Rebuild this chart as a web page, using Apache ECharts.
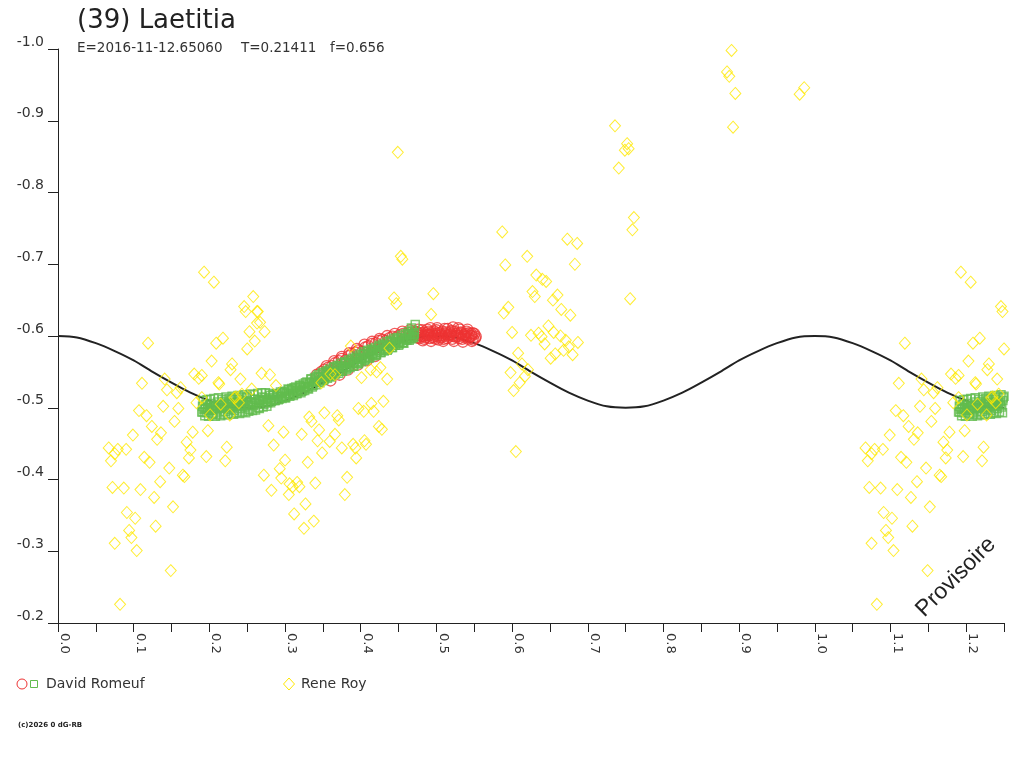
<!DOCTYPE html>
<html>
<head>
<meta charset="utf-8">
<script src="https://cdn.jsdelivr.net/npm/echarts@6/dist/echarts.min.js"></script>
<style>
html, body { margin: 0; padding: 0; background: #fff; }
#chart { width: 1024px; height: 768px; }
</style>
</head>
<body>
<div id="chart"></div>
<script>
// light curve of (39) Laetitia, phase vs magnitude
var curvePhase = [0, 0.025, 0.05, 0.075, 0.1, 0.125, 0.15, 0.175, 0.2, 0.225,
    0.25, 0.275, 0.3, 0.325, 0.35, 0.375, 0.4, 0.425, 0.45, 0.475,
    0.5, 0.525, 0.55, 0.575, 0.6, 0.625, 0.65, 0.675, 0.7, 0.725,
    0.75, 0.775, 0.8, 0.825, 0.85, 0.875, 0.9, 0.925, 0.95, 0.975,
    1.0, 1.025, 1.05, 1.075, 1.1, 1.125, 1.15, 1.175, 1.2, 1.225, 1.25]
var curveMag = [-0.600, -0.598, -0.590, -0.579, -0.566, -0.550, -0.535, -0.521, -0.510, -0.502,
    -0.500, -0.502, -0.510, -0.521, -0.535, -0.550, -0.566, -0.579, -0.590, -0.598,
    -0.600, -0.598, -0.590, -0.579, -0.566, -0.550, -0.535, -0.521, -0.510, -0.502,
    -0.500, -0.502, -0.510, -0.521, -0.535, -0.550, -0.566, -0.579, -0.590, -0.598,
    -0.600, -0.598, -0.590, -0.579, -0.566, -0.550, -0.535, -0.521, -0.510, -0.502, -0.500]

// Rene Roy (diamonds)
var reneRoy = [
    [0.193,-0.689],[0.206,-0.675],[0.258,-0.655],[0.246,-0.641],[0.248,-0.634],[0.263,-0.634],
    [0.263,-0.618],[0.253,-0.606],[0.260,-0.593],[0.250,-0.582],[0.119,-0.590],[0.209,-0.590],
    [0.218,-0.597],[0.203,-0.565],[0.230,-0.561],[0.228,-0.553],[0.241,-0.540],[0.180,-0.547],
    [0.186,-0.541],[0.190,-0.545],[0.212,-0.535],[0.213,-0.533],[0.141,-0.540],[0.111,-0.534],
    [0.144,-0.525],[0.157,-0.521],[0.162,-0.528],[0.190,-0.514],[0.183,-0.507],[0.256,-0.526],
    [0.243,-0.519],[0.235,-0.515],[0.239,-0.507],[0.139,-0.502],[0.159,-0.499],[0.107,-0.496],
    [0.117,-0.489],[0.201,-0.490],[0.154,-0.481],[0.124,-0.474],[0.099,-0.462],[0.136,-0.465],
    [0.131,-0.456],[0.178,-0.466],[0.198,-0.468],[0.170,-0.452],[0.175,-0.441],[0.173,-0.430],
    [0.223,-0.445],[0.067,-0.444],[0.079,-0.442],[0.075,-0.436],[0.070,-0.426],[0.090,-0.442],
    [0.114,-0.431],[0.121,-0.424],[0.196,-0.432],[0.221,-0.426],[0.147,-0.416],[0.165,-0.406],
    [0.167,-0.404],[0.072,-0.389],[0.087,-0.388],[0.109,-0.386],[0.135,-0.397],[0.127,-0.375],
    [0.152,-0.362],[0.091,-0.354],[0.102,-0.346],[0.129,-0.335],[0.094,-0.329],[0.097,-0.319],
    [0.075,-0.311],[0.104,-0.301],[0.149,-0.273],[0.082,-0.226],
    [0.215,-0.505],[0.233,-0.514],[0.227,-0.490],
    [0.264,-0.634],[0.267,-0.619],[0.273,-0.606],[0.444,-0.653],[0.447,-0.645],[0.496,-0.659],
    [0.493,-0.630],[0.387,-0.586],[0.438,-0.583],[0.269,-0.548],[0.280,-0.546],[0.413,-0.553],
    [0.421,-0.550],[0.426,-0.556],[0.401,-0.542],[0.435,-0.540],[0.360,-0.547],[0.366,-0.546],
    [0.348,-0.535],[0.288,-0.531],[0.397,-0.499],[0.404,-0.495],[0.414,-0.506],[0.417,-0.495],
    [0.430,-0.509],[0.352,-0.493],[0.369,-0.489],[0.371,-0.483],[0.332,-0.487],[0.335,-0.481],
    [0.278,-0.475],[0.298,-0.466],[0.345,-0.469],[0.424,-0.474],[0.428,-0.470],[0.322,-0.463],
    [0.366,-0.463],[0.359,-0.453],[0.343,-0.454],[0.285,-0.448],[0.390,-0.449],[0.393,-0.444],
    [0.405,-0.454],[0.407,-0.449],[0.375,-0.444],[0.349,-0.437],[0.394,-0.430],[0.300,-0.427],
    [0.330,-0.424],[0.293,-0.415],[0.272,-0.406],[0.295,-0.402],[0.306,-0.394],[0.310,-0.390],
    [0.316,-0.396],[0.319,-0.390],[0.340,-0.395],[0.382,-0.403],[0.282,-0.385],[0.305,-0.379],
    [0.379,-0.379],[0.327,-0.366],[0.312,-0.352],[0.338,-0.342],[0.325,-0.332],
    [0.449,-0.856],[0.453,-0.711],[0.455,-0.707],
    [0.587,-0.745],[0.673,-0.735],[0.686,-0.729],[0.620,-0.711],[0.591,-0.699],[0.683,-0.700],
    [0.632,-0.685],[0.640,-0.679],[0.645,-0.676],[0.627,-0.662],[0.630,-0.655],[0.660,-0.657],
    [0.654,-0.650],[0.595,-0.640],[0.589,-0.632],[0.665,-0.637],[0.677,-0.629],[0.600,-0.605],
    [0.625,-0.601],[0.635,-0.604],[0.639,-0.599],[0.648,-0.614],[0.655,-0.605],[0.664,-0.600],
    [0.671,-0.594],[0.643,-0.589],[0.687,-0.591],[0.675,-0.585],[0.668,-0.580],[0.657,-0.575],
    [0.651,-0.569],[0.680,-0.574],[0.608,-0.576],[0.613,-0.561],[0.621,-0.553],[0.617,-0.544],
    [0.610,-0.535],[0.598,-0.549],[0.602,-0.524],[0.605,-0.439],
    [0.890,-0.998],[0.884,-0.968],[0.887,-0.962],[0.895,-0.938],[0.986,-0.946],[0.980,-0.937],
    [0.892,-0.891],[0.736,-0.893],[0.752,-0.868],[0.749,-0.859],[0.754,-0.861],[0.741,-0.834],
    [0.761,-0.765],[0.759,-0.748],[0.756,-0.652]
]

// David Romeuf, squares session
var romeufSquares = [
    [0.190,-0.494],[0.191,-0.502],[0.193,-0.498],[0.195,-0.505],[0.196,-0.493],[0.198,-0.500],
    [0.200,-0.496],[0.202,-0.506],[0.204,-0.499],[0.205,-0.492],[0.207,-0.503],[0.209,-0.497],
    [0.211,-0.508],[0.213,-0.500],[0.214,-0.494],[0.216,-0.504],[0.218,-0.499],[0.220,-0.509],
    [0.221,-0.495],[0.223,-0.502],[0.225,-0.506],[0.227,-0.498],[0.229,-0.511],[0.231,-0.501],
    [0.233,-0.496],[0.235,-0.507],[0.237,-0.503],[0.239,-0.512],[0.241,-0.499],[0.243,-0.505],
    [0.245,-0.509],[0.247,-0.501],[0.249,-0.514],[0.251,-0.504],[0.253,-0.498],[0.255,-0.508],
    [0.258,-0.503],[0.260,-0.512],[0.262,-0.506],[0.265,-0.500],[0.267,-0.510],[0.270,-0.515],
    [0.272,-0.505],[0.275,-0.511],[0.277,-0.507],[0.280,-0.517],[0.282,-0.509],[0.285,-0.514],
    [0.287,-0.510],[0.290,-0.519],[0.292,-0.512],[0.295,-0.516],[0.297,-0.522],[0.300,-0.514],
    [0.302,-0.520],[0.305,-0.525],[0.307,-0.517],[0.310,-0.522],[0.312,-0.528],[0.315,-0.520],
    [0.317,-0.526],[0.320,-0.531],[0.322,-0.523],[0.325,-0.529],[0.327,-0.535],[0.330,-0.527],
    [0.332,-0.533],[0.335,-0.540],[0.337,-0.531],[0.340,-0.538],[0.342,-0.544],[0.345,-0.536],
    [0.347,-0.543],[0.350,-0.549],[0.352,-0.540],[0.355,-0.546],[0.357,-0.552],[0.360,-0.544],
    [0.362,-0.550],[0.365,-0.556],[0.367,-0.548],[0.370,-0.554],[0.372,-0.559],[0.375,-0.551],
    [0.377,-0.557],[0.380,-0.563],[0.382,-0.555],[0.385,-0.561],[0.387,-0.566],[0.390,-0.558],
    [0.392,-0.564],[0.395,-0.570],[0.397,-0.562],[0.400,-0.568],[0.402,-0.574],[0.405,-0.566],
    [0.407,-0.572],[0.410,-0.578],[0.412,-0.570],[0.415,-0.576],[0.417,-0.581],[0.420,-0.573],
    [0.422,-0.579],[0.425,-0.585],[0.427,-0.577],[0.430,-0.583],[0.432,-0.588],[0.435,-0.580],
    [0.437,-0.586],[0.440,-0.592],[0.442,-0.584],[0.445,-0.590],[0.447,-0.595],[0.450,-0.587],
    [0.452,-0.593],[0.455,-0.598],[0.457,-0.590],[0.460,-0.596],[0.462,-0.603],[0.464,-0.594],
    [0.466,-0.600],[0.468,-0.608],[0.470,-0.598],[0.471,-0.604],
    [0.192,-0.510],[0.194,-0.489],[0.197,-0.511],[0.199,-0.488],[0.201,-0.512],[0.203,-0.490],
    [0.206,-0.513],[0.208,-0.488],[0.210,-0.491],[0.212,-0.514],[0.215,-0.489],[0.217,-0.512],
    [0.219,-0.491],[0.222,-0.515],[0.224,-0.490],[0.226,-0.513],[0.228,-0.492],[0.230,-0.516],
    [0.232,-0.491],[0.234,-0.514],[0.236,-0.493],[0.238,-0.517],[0.240,-0.492],[0.242,-0.515],
    [0.244,-0.494],[0.246,-0.518],[0.248,-0.493],[0.250,-0.516],[0.252,-0.495],[0.254,-0.519],
    [0.257,-0.496],[0.259,-0.518],[0.261,-0.497],[0.264,-0.520],[0.266,-0.499],[0.269,-0.521],
    [0.271,-0.501],[0.274,-0.521],[0.276,-0.502],[0.279,-0.520],
    [0.281,-0.507],[0.284,-0.518],[0.286,-0.510],[0.289,-0.520],[0.291,-0.511],[0.294,-0.522],
    [0.296,-0.513],[0.299,-0.523],[0.301,-0.514],[0.304,-0.526],[0.306,-0.516],[0.309,-0.527],
    [0.311,-0.517],[0.314,-0.529],[0.316,-0.520],[0.319,-0.531],[0.321,-0.521],[0.324,-0.533],
    [0.326,-0.524],[0.329,-0.536],[0.331,-0.526],[0.334,-0.540],[0.336,-0.529],[0.339,-0.542],
    [0.341,-0.532],[0.344,-0.546],[0.346,-0.535],[0.349,-0.548],[0.351,-0.538],[0.354,-0.551],
    [0.356,-0.541],[0.359,-0.554],[0.361,-0.543],[0.364,-0.557],[0.366,-0.546],[0.369,-0.559],
    [0.371,-0.548],[0.374,-0.562],[0.376,-0.551],[0.379,-0.564],[0.381,-0.553],[0.384,-0.567],
    [0.386,-0.556],[0.389,-0.569],[0.391,-0.558],[0.394,-0.572],[0.396,-0.561],[0.399,-0.575],
    [0.401,-0.564],[0.404,-0.578],[0.406,-0.567],[0.409,-0.580],[0.411,-0.569],[0.414,-0.582],
    [0.416,-0.572],[0.419,-0.584],[0.421,-0.574],[0.424,-0.587],[0.426,-0.577],[0.429,-0.589],
    [0.431,-0.579],[0.434,-0.592],[0.436,-0.582],[0.439,-0.594],[0.441,-0.584],[0.444,-0.597],
    [0.446,-0.587],[0.449,-0.598],[0.451,-0.589],[0.454,-0.601],[0.456,-0.591],[0.459,-0.603],
    [0.461,-0.594],[0.463,-0.606],[0.465,-0.596],[0.467,-0.611],[0.469,-0.599],[0.472,-0.616],
    [0.1915,-0.494],[0.1945,-0.499],[0.1975,-0.497],[0.2005,-0.503],[0.2035,-0.497],[0.2065,-0.502],
    [0.2095,-0.499],[0.2125,-0.505],[0.2155,-0.499],[0.2185,-0.504],[0.2215,-0.501],[0.2245,-0.507],
    [0.2275,-0.500],[0.2305,-0.505],[0.2335,-0.503],[0.2365,-0.508],[0.2395,-0.502],[0.2425,-0.507],
    [0.2455,-0.504],[0.2485,-0.510],[0.2515,-0.503],[0.2545,-0.508],[0.2575,-0.506],[0.2605,-0.512],
    [0.2635,-0.506],[0.2665,-0.511],[0.2695,-0.508],[0.2725,-0.514],[0.2755,-0.508],[0.2785,-0.513],
    [0.2815,-0.511],[0.2845,-0.517],[0.2875,-0.511],[0.2905,-0.516],[0.2935,-0.515],[0.2965,-0.521],
    [0.2995,-0.515],[0.3025,-0.520],[0.3055,-0.519],[0.3085,-0.524],[0.3115,-0.519],[0.3145,-0.524],
    [0.3175,-0.523],[0.3205,-0.529],[0.3235,-0.524],[0.3265,-0.529],[0.3295,-0.529],[0.3325,-0.535],
    [0.3355,-0.531],[0.3385,-0.536],[0.3415,-0.536],[0.3445,-0.542],[0.3475,-0.538],[0.3505,-0.543],
    [0.3535,-0.543],[0.3565,-0.550],[0.3595,-0.545],[0.3625,-0.550],[0.3655,-0.550],[0.3685,-0.556],
    [0.3715,-0.551],[0.3745,-0.556],[0.3775,-0.556],[0.3805,-0.562],[0.3835,-0.557],[0.3865,-0.562],
    [0.3895,-0.562],[0.3925,-0.568],[0.3955,-0.563],[0.3985,-0.568],[0.4015,-0.569],[0.4045,-0.575],
    [0.4075,-0.570],[0.4105,-0.575],[0.4135,-0.575],[0.4165,-0.580],[0.4195,-0.575],[0.4225,-0.580],
    [0.4255,-0.580],[0.4285,-0.586],[0.4315,-0.581],[0.4345,-0.586],[0.4375,-0.586],[0.4405,-0.591],
    [0.4435,-0.587],[0.4465,-0.592],[0.4495,-0.591],[0.4525,-0.596],[0.4555,-0.591],[0.4585,-0.596],
    [0.4615,-0.596],[0.4645,-0.602],[0.4675,-0.596],[0.4705,-0.602]
]

// David Romeuf, circles session
var romeufCircles = [
    [0.342,-0.546],[0.348,-0.550],[0.352,-0.553],[0.357,-0.556],[0.362,-0.558],[0.366,-0.562],
    [0.371,-0.565],[0.375,-0.568],[0.380,-0.566],[0.384,-0.572],[0.388,-0.575],[0.393,-0.577],
    [0.397,-0.580],[0.402,-0.578],[0.406,-0.584],[0.410,-0.586],[0.415,-0.589],[0.420,-0.590],
    [0.424,-0.593],[0.429,-0.595],[0.433,-0.593],[0.438,-0.597],[0.442,-0.599],[0.447,-0.598],
    [0.451,-0.601],[0.456,-0.603],[0.460,-0.600],[0.464,-0.604],[0.468,-0.602],[0.472,-0.606],
    [0.475,-0.598],[0.478,-0.603],[0.481,-0.608],[0.484,-0.596],[0.487,-0.601],[0.490,-0.606],
    [0.492,-0.611],[0.495,-0.598],[0.498,-0.603],[0.500,-0.608],[0.503,-0.595],[0.506,-0.601],
    [0.508,-0.606],[0.511,-0.610],[0.514,-0.597],[0.517,-0.602],[0.520,-0.607],[0.522,-0.612],
    [0.525,-0.599],[0.528,-0.604],[0.531,-0.609],[0.534,-0.596],[0.537,-0.601],[0.540,-0.606],
    [0.543,-0.598],[0.546,-0.603],[0.549,-0.595],[0.552,-0.599],
    [0.355,-0.558],[0.365,-0.565],[0.375,-0.571],[0.385,-0.576],[0.395,-0.582],[0.405,-0.588],
    [0.415,-0.592],[0.425,-0.596],[0.435,-0.600],[0.445,-0.603],[0.455,-0.606],[0.465,-0.608],
    [0.360,-0.538],[0.372,-0.546],[0.383,-0.553],[0.396,-0.560],[0.408,-0.566],[0.419,-0.572],
    [0.474,-0.605],[0.477,-0.597],[0.480,-0.600],[0.483,-0.605],[0.486,-0.598],[0.489,-0.602],
    [0.491,-0.597],[0.494,-0.605],[0.497,-0.600],[0.499,-0.596],[0.502,-0.604],[0.505,-0.598],
    [0.507,-0.602],[0.510,-0.596],[0.513,-0.605],[0.516,-0.599],[0.519,-0.603],[0.521,-0.596],
    [0.524,-0.606],[0.527,-0.600],[0.530,-0.597],[0.533,-0.604],[0.536,-0.599],[0.539,-0.603],
    [0.542,-0.596],[0.545,-0.600],[0.548,-0.604],[0.551,-0.597],
    [0.476,-0.609],[0.482,-0.594],[0.488,-0.609],[0.493,-0.593],[0.501,-0.611],[0.509,-0.593],
    [0.515,-0.610],[0.523,-0.593],[0.529,-0.611],[0.535,-0.592],[0.541,-0.609],[0.547,-0.593],
    [0.4765,-0.601],[0.4800,-0.604],[0.4835,-0.600],[0.4870,-0.604],[0.4905,-0.601],[0.4940,-0.602],
    [0.4975,-0.606],[0.5010,-0.600],[0.5045,-0.604],[0.5080,-0.599],[0.5115,-0.603],[0.5150,-0.601],
    [0.5185,-0.605],[0.5220,-0.600],[0.5255,-0.603],[0.5290,-0.600],[0.5325,-0.605],[0.5360,-0.602],
    [0.5395,-0.599],[0.5430,-0.604],[0.5465,-0.600],[0.5500,-0.603]
]

var titleText = '(39) Laetitia'
var infoTexts = ['E=2016-11-12.65060', 'T=0.21411', 'f=0.656']
var observers = ['David Romeuf', 'Rene Roy']

// phase axis runs to 1.25: points of phase <= 0.25 are shown again one cycle later
function withWrap(points) {
    var extra = points.filter(function (p) { return p[0] <= 0.25 })
        .map(function (p) { return [p[0] + 1, p[1]] })
    return points.concat(extra)
}

var FONT = '"DejaVu Sans", "Liberation Sans", sans-serif'
var YELLOW = '#ffe800'
var GREEN = '#62bb4e'
var RED = '#ee3333'

var chart = echarts.init(document.getElementById('chart'))

var option = {
    animation: false,
    backgroundColor: '#fff',
    grid: { left: 58, top: 49, right: 20, bottom: 145 },
    xAxis: {
        type: 'value',
        min: 0,
        max: 1.25,
        interval: 0.05,
        splitLine: { show: false },
        axisLine: { onZero: false, lineStyle: { color: '#222', width: 1 } },
        axisTick: { length: 9, lineStyle: { color: '#222' } },
        axisLabel: {
            rotate: -90,
            margin: 10,
            verticalAlign: 'bottom',
            color: '#333',
            fontFamily: FONT,
            fontSize: 13,
            formatter: function (v) {
                var k = Math.round(v * 100)
                return k % 10 === 0 ? (k / 100).toFixed(1) : ''
            }
        }
    },
    yAxis: {
        type: 'value',
        inverse: true,
        min: -1.0,
        max: -0.2,
        interval: 0.1,
        splitLine: { show: false },
        axisLine: { onZero: false, lineStyle: { color: '#222', width: 1 } },
        axisTick: { length: 10, lineStyle: { color: '#222' } },
        axisLabel: {
            margin: 14,
            verticalAlign: 'bottom',
            color: '#333',
            fontFamily: FONT,
            fontSize: 14,
            formatter: function (v) { return v.toFixed(1) }
        }
    },
    series: [
        {
            type: 'line',
            data: curvePhase.map(function (p, i) { return [p, curveMag[i]] }),
            showSymbol: false,
            smooth: 0.3,
            lineStyle: { color: '#222', width: 2 },
            z: 1
        },
        {
            name: observers[0],
            type: 'scatter',
            data: romeufCircles,
            symbol: 'circle',
            symbolSize: 11,
            itemStyle: { color: 'transparent', borderColor: RED, borderWidth: 1.3 },
            z: 2
        },
        {
            name: observers[0],
            type: 'scatter',
            data: withWrap(romeufSquares),
            symbol: 'rect',
            symbolSize: 8,
            itemStyle: { color: 'transparent', borderColor: GREEN, borderWidth: 1.5 },
            z: 3
        },
        {
            name: observers[1],
            type: 'scatter',
            data: withWrap(reneRoy),
            symbol: 'diamond',
            symbolSize: [11, 12],
            itemStyle: { color: 'transparent', borderColor: YELLOW, borderWidth: 1 },
            z: 4
        }
    ],
    graphic: [
        { type: 'text', x: 77, y: 21, style: { text: titleText, fontFamily: FONT, fontSize: 26, fill: '#222', verticalAlign: 'middle' } },
        { type: 'text', x: 77, y: 48, style: { text: infoTexts[0], fontFamily: FONT, fontSize: 13.5, fill: '#333', verticalAlign: 'middle' } },
        { type: 'text', x: 241, y: 48, style: { text: infoTexts[1], fontFamily: FONT, fontSize: 13.5, fill: '#333', verticalAlign: 'middle' } },
        { type: 'text', x: 330, y: 48, style: { text: infoTexts[2], fontFamily: FONT, fontSize: 13.5, fill: '#333', verticalAlign: 'middle' } },
        { type: 'circle', shape: { cx: 22, cy: 684, r: 5 }, style: { fill: 'none', stroke: RED, lineWidth: 1 } },
        { type: 'rect', shape: { x: 30.5, y: 680.5, width: 7, height: 7 }, style: { fill: 'none', stroke: GREEN, lineWidth: 1 } },
        { type: 'text', x: 46, y: 684, style: { text: observers[0], fontFamily: FONT, fontSize: 14, fill: '#333', verticalAlign: 'middle' } },
        { type: 'polygon', shape: { points: [[289, 678], [294.5, 684], [289, 690], [283.5, 684]] }, style: { fill: 'none', stroke: YELLOW, lineWidth: 1 } },
        { type: 'text', x: 301, y: 684, style: { text: observers[1], fontFamily: FONT, fontSize: 14, fill: '#333', verticalAlign: 'middle' } },
        { type: 'text', x: 18, y: 725, style: { text: '(c)2026 0 dG-RB', fontFamily: FONT, fontSize: 7, fontWeight: 'bold', fill: '#222', verticalAlign: 'middle' } },
        { type: 'text', x: 956, y: 577, rotation: Math.PI / 4, style: { text: 'Provisoire', fontFamily: '"Liberation Sans", Arial, sans-serif', fontSize: 23, fill: '#222', align: 'center', verticalAlign: 'middle' } }
    ]
}

chart.setOption(option)
</script>
</body>
</html>
